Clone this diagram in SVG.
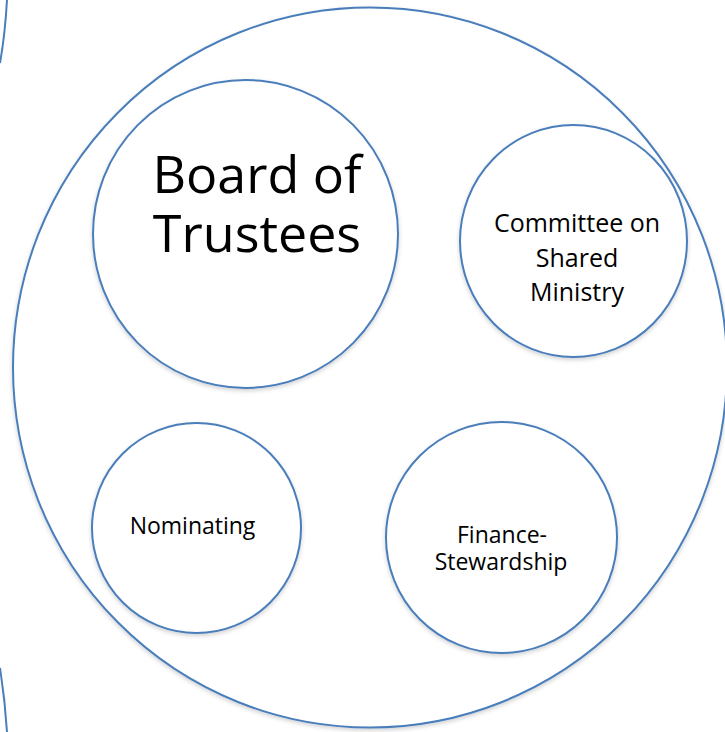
<svg xmlns="http://www.w3.org/2000/svg" width="725" height="732" viewBox="0 0 725 732">
<defs>
<filter id="sh" x="-10%" y="-10%" width="120%" height="120%">
<feDropShadow dx="0" dy="2" stdDeviation="2" flood-color="#000" flood-opacity="0.18"/>
</filter>
<style>
.c{fill:#fff;stroke:#4a7ebb;stroke-width:2;filter:url(#sh)}
.a{fill:none;stroke:#4a7ebb;stroke-width:2}
text{font-family:"Open Sans","Noto Sans","Liberation Sans",sans-serif;fill:#000;text-anchor:middle}
</style>
</defs>
<rect width="725" height="732" fill="#fff"/>
<g id="left-arcs">
<path class="a" d="M 7 0 Q 5 35 0 63"/>
<path class="a" d="M 0 668 Q 5 700 7 732"/>
</g>
<g id="outer">
<ellipse class="c" cx="370" cy="367.5" rx="357" ry="360"/>
</g>
<g id="board">
<ellipse class="c" cx="245.5" cy="234" rx="152.5" ry="154"/>
<text font-size="52"><tspan x="257" y="193">Board of</tspan><tspan x="257" y="252">Trustees</tspan></text>
</g>
<g id="committee">
<ellipse class="c" cx="573.5" cy="241" rx="113.5" ry="116"/>
<text font-size="25"><tspan x="577" y="232">Committee on</tspan><tspan x="577" y="267">Shared</tspan><tspan x="577" y="301">Ministry</tspan></text>
</g>
<g id="nominating">
<ellipse class="c" cx="196.5" cy="528" rx="104.5" ry="105"/>
<text font-size="23" x="192.5" y="534">Nominating</text>
</g>
<g id="finance">
<ellipse class="c" cx="501.5" cy="537.5" rx="115.5" ry="115.5"/>
<text font-size="23"><tspan x="502" y="543">Finance-</tspan><tspan x="501" y="570">Stewardship</tspan></text>
</g>
<g id="connectors"/>
</svg>
